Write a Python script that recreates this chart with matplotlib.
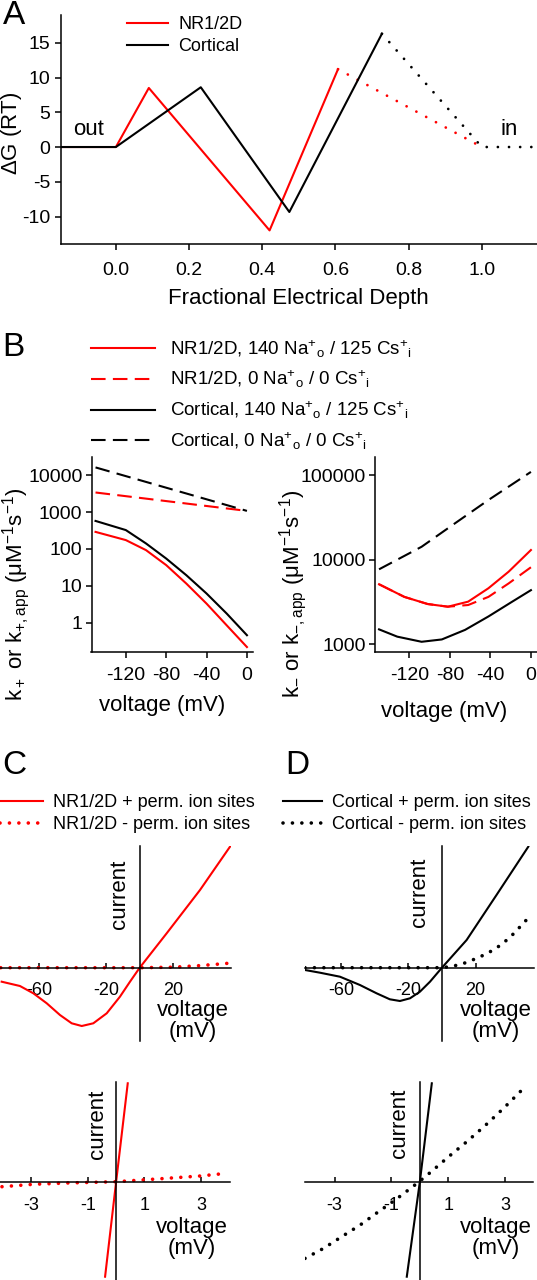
import matplotlib
matplotlib.use('Agg')
import matplotlib.pyplot as plt
from matplotlib.ticker import NullLocator

plt.rcParams['font.family'] = ['Liberation Sans', 'DejaVu Sans']
plt.rcParams['mathtext.fontset'] = 'custom'
plt.rcParams['mathtext.rm'] = 'Liberation Sans'
plt.rcParams['mathtext.it'] = 'Liberation Sans:italic'
plt.rcParams['mathtext.bf'] = 'Liberation Sans:bold'
plt.rcParams['lines.solid_joinstyle'] = 'round'

RED = '#ff0000'

# ---- panel A: energy profile ----
a_nr_x = [-0.15, 0.0, 0.09, 0.42, 0.607]
a_nr_y = [0, 0, 8.5, -12.0, 11.2]
a_nr_dot_x = [0.607, 1.0]
a_nr_dot_y = [11.2, 0]
a_ctx_x = [-0.15, 0.0, 0.232, 0.474, 0.727]
a_ctx_y = [0, 0, 8.6, -9.35, 16.3]
a_ctx_dot_x = [0.727, 1.0, 1.15]
a_ctx_dot_y = [16.3, 0, 0]
a_xticks = [0.0, 0.2, 0.4, 0.6, 0.8, 1.0]
a_yticks = [-10, -5, 0, 5, 10, 15]

# ---- panel B: rate constants ----
bl_v = [-150, -120, -100, -80, -60, -40, -20, 0]
kp_ctx_140 = [575, 325, 141, 55, 19.4, 6.2, 1.77, 0.46]
kp_nr_140 = [290, 174, 93, 36.5, 11.5, 3.3, 0.85, 0.22]
bl_v0 = [-150, 0]
kp_ctx_0 = [16200, 1075]
kp_nr_0 = [3390, 1075]
bl_yticks = [1, 10, 100, 1000, 10000]

br_v_ctx0 = [-150, -108, -75, -42, 0]
km_ctx_0 = [7690, 14200, 26900, 50700, 109000]
br_v_nr = [-150, -125, -102, -82, -62, -42, -22, 0]
km_nr_140 = [5120, 3630, 2990, 2780, 3190, 4590, 7210, 13000]
km_nr_0 = [5120, 3630, 2990, 2780, 2910, 3630, 5240, 8130]
br_v_ctx = [-150, -132, -108, -88, -65, -42, -19, 0]
km_ctx_140 = [1500, 1230, 1070, 1140, 1480, 2130, 3160, 4360]
br_yticks = [1000, 10000, 100000]
b_xticks = [-120, -80, -40, 0]

# ---- panels C / D: I-V curves (arbitrary current units) ----
c_v = [-82.4, -71.5, -63.5, -55.5, -47.6, -40.6, -34.6, -27.7, -19.7, -11.8, -5.8, 0, 16.1, 36, 53.9]
c_i_plus = [-14, -18.3, -25.6, -35.6, -47.3, -55.6, -58.3, -55.6, -45.6, -29, -14, 0, 34.4, 77.7, 121]
c_v_minus = [-83, 0, 20, 35, 45, 52]
c_i_minus = [0, 0, 0.5, 2, 3.3, 4.3]

d_v = [-81.5, -72.6, -60.7, -48.8, -38.9, -31, -25, -19, -13.1, -7.1, 0, 14.7, 32.6, 51.4]
d_i_plus = [-2.3, -5, -9, -17.3, -25.6, -31.6, -33.3, -30.6, -24, -14, 0, 27.7, 73, 121]
d_v_minus = [-81.5, 0, 4.6, 9.7, 14.7, 19.6, 25, 30.6, 35.5, 40.9, 46, 50.8]
d_i_minus = [0, 0, 1, 2.7, 5.3, 8.7, 12.7, 17.7, 23.3, 31, 40, 48.7]

cl_v_plus = [-0.39, 0, 0.41]
cl_i_plus = [-95, 0, 98.4]
cl_v_minus = [-4.03, -2.92, -1.74, 0, 1.79, 2.96, 3.91]
cl_i_minus = [-5, -2.6, -1.3, 0, 3.4, 5.7, 8.4]

dl_v_plus = [-0.46, 0, 0.42]
dl_i_plus = [-95, 0, 98.4]
dl_v_minus = [-4.04, -3.39, -2.75, -2.1, -1.49, -0.87, -0.22, 0.07, 0.4, 1.01, 1.65, 2.28, 2.94, 3.61]
dl_i_minus = [-76.7, -66.7, -55, -43.3, -30.7, -18.3, -4.3, 2.3, 10, 25, 40, 55.7, 73.3, 92.3]

up_xticks = [-60, -20, 20]
lo_xticks = [-3, -1, 1, 3]

W, H = 537, 1280
fig = plt.figure(figsize=(W / 100, H / 100), dpi=100)


def px_axes(l, t, r, b):
    return fig.add_axes([l / W, 1 - b / H, (r - l) / W, (b - t) / H])


def fx(x):
    return x / W


def fy(y):
    return 1 - y / H


def plain_axes(ax):
    ax.spines['top'].set_visible(False)
    ax.spines['right'].set_visible(False)
    for s in ['left', 'bottom']:
        ax.spines[s].set_linewidth(1.1)
    ax.tick_params(direction='out', length=4.5, width=1.1, labelsize=14, pad=2)


dots_a = dict(linestyle=(0, (0.01, 4.0)), dash_capstyle='round', lw=2.0)
dots_c = dict(linestyle=(0, (0.01, 2.6)), dash_capstyle='round', lw=2.6)
dash_b = dict(linestyle=(0, (7, 3.5)), lw=1.5)

# ---------------- A ----------------
ax = px_axes(61, 15, 536.7, 244.3)
plain_axes(ax)
l_nr, = ax.plot(a_nr_x, a_nr_y, color=RED, lw=1.5, label='NR1/2D')
ax.plot(a_nr_dot_x, a_nr_dot_y, color=RED, **dots_a)
l_ctx, = ax.plot(a_ctx_x, a_ctx_y, color='black', lw=1.5, label='Cortical')
ax.plot(a_ctx_dot_x, a_ctx_dot_y, color='black', **dots_a)
ax.set_xlim(-0.15, 1.15)
ax.set_ylim(-14, 19)
ax.set_xticks(a_xticks)
ax.set_xticklabels(['%.1f' % v for v in a_xticks])
ax.set_yticks(a_yticks)
ax.set_yticklabels([str(v) for v in a_yticks])
ax.tick_params(axis='x', pad=8.5)
ax.tick_params(axis='y', pad=3)
ax.text(-0.075, 2.5, 'out', fontsize=16, ha='center', va='center')
ax.text(1.075, 2.5, 'in', fontsize=16, ha='center', va='center')
ax.set_xlabel('Fractional Electrical Depth', fontsize=16, labelpad=6)
fig.text(fx(11), fy(133), r'$\Delta$G (RT)', rotation=90, fontsize=16, ha='center', va='center')
ax.legend(handles=[l_nr, l_ctx], loc='upper left', bbox_to_anchor=(fx(126.7), fy(16)),
          bbox_transform=fig.transFigure, frameon=False, fontsize=13, handlelength=2.3,
          handletextpad=0.55, borderpad=0, borderaxespad=0, labelspacing=0.3)

# ---------------- B ----------------
axl = px_axes(91.5, 456.7, 253, 652.3)
plain_axes(axl)
axl.set_yscale('log')
b1, = axl.plot(bl_v, kp_nr_140, color=RED, lw=1.5)
b2, = axl.plot(bl_v0, kp_nr_0, color=RED, **dash_b)
b3, = axl.plot(bl_v, kp_ctx_140, color='black', lw=1.5)
b4, = axl.plot(bl_v0, kp_ctx_0, color='black', **dash_b)
axl.set_xlim(-154, 6)
axl.set_ylim(10 ** -0.8, 10 ** 4.5)
axl.set_yticks(bl_yticks)
axl.set_yticklabels([str(v) for v in bl_yticks])
axl.yaxis.set_minor_locator(NullLocator())
axl.set_xticks(b_xticks)
axl.set_xticklabels([str(v) for v in b_xticks])
axl.tick_params(axis='x', pad=6)
fig.text(fx(162), fy(706), 'voltage (mV)', fontsize=16, ha='center', va='center')
fig.text(fx(16), fy(594), r'k$_+$ or k$_{+,\mathrm{app}}$ ($\mathrm{\mu}$M$^{-1}$s$^{-1}$)',
         rotation=90, fontsize=16, ha='center', va='center')

axr = px_axes(375, 457.3, 537, 652.3)
plain_axes(axr)
axr.set_yscale('log')
axr.plot(br_v_ctx0, km_ctx_0, color='black', **dash_b)
axr.plot(br_v_nr, km_nr_0, color=RED, **dash_b)
axr.plot(br_v_nr, km_nr_140, color=RED, lw=1.5)
axr.plot(br_v_ctx, km_ctx_140, color='black', lw=1.5)
axr.set_xlim(-154, 6)
axr.set_ylim(10 ** 2.905, 10 ** 5.21)
axr.set_yticks(br_yticks)
axr.set_yticklabels([str(v) for v in br_yticks])
axr.yaxis.set_minor_locator(NullLocator())
axr.set_xticks(b_xticks)
axr.set_xticklabels([str(v) for v in b_xticks])
axr.tick_params(axis='x', pad=6)
fig.text(fx(444), fy(712), 'voltage (mV)', fontsize=16, ha='center', va='center')
fig.text(fx(293), fy(594), r'k$_{-}$ or k$_{-,\mathrm{app}}$ ($\mathrm{\mu}$M$^{-1}$s$^{-1}$)',
         rotation=90, fontsize=16, ha='center', va='center')

b_labels = [r'NR1/2D, 140 Na$^{+}$$_{\mathrm{o}}$ / 125 Cs$^{+}$$_{\mathrm{i}}$',
            r'NR1/2D, 0 Na$^{+}$$_{\mathrm{o}}$ / 0 Cs$^{+}$$_{\mathrm{i}}$',
            r'Cortical, 140 Na$^{+}$$_{\mathrm{o}}$ / 125 Cs$^{+}$$_{\mathrm{i}}$',
            r'Cortical, 0 Na$^{+}$$_{\mathrm{o}}$ / 0 Cs$^{+}$$_{\mathrm{i}}$']
axl.legend(handles=[b1, b2, b3, b4], labels=b_labels, loc='upper left',
           bbox_to_anchor=(fx(90.8), fy(338)), bbox_transform=fig.transFigure,
           frameon=False, fontsize=13.5, handlelength=3.4, handletextpad=0.85,
           borderpad=0, borderaxespad=0, labelspacing=0.48)


# ---------------- C / D ----------------
def iv_axes(l, t, r, b, xlim, ylim, ticks, pad):
    a = px_axes(l, t, r, b)
    a.spines['top'].set_visible(False)
    a.spines['right'].set_visible(False)
    a.spines['left'].set_position(('data', 0))
    a.spines['bottom'].set_position(('data', 0))
    for s in ['left', 'bottom']:
        a.spines[s].set_linewidth(1.1)
    a.set_xlim(*xlim)
    a.set_ylim(*ylim)
    a.set_yticks([])
    a.set_xticks(ticks)
    a.set_xticklabels([str(v) for v in ticks])
    a.tick_params(axis='x', direction='in', length=3.6, width=1.1, labelsize=13, pad=pad)
    return a


axc = iv_axes(0, 846, 231, 1041, (-83.4, 54.5), (-73.3, 121.7), up_xticks, 10)
c1, = axc.plot(c_v, c_i_plus, color=RED, lw=1.5)
c2, = axc.plot(c_v_minus, c_i_minus, color=RED, **dots_c)
fig.text(fx(120), fy(894), 'current', rotation=90, fontsize=16, ha='center', va='center')
fig.text(fx(193), fy(1021), 'voltage\n(mV)', fontsize=16, ha='center', va='center', linespacing=0.95)
axc.legend(handles=[c1, c2], labels=['NR1/2D + perm. ion sites', 'NR1/2D - perm. ion sites'],
           loc='upper left', bbox_to_anchor=(fx(0), fy(794)), bbox_transform=fig.transFigure,
           frameon=False, fontsize=13, handlelength=2.38, handletextpad=0.55,
           borderpad=0, borderaxespad=0, labelspacing=0.3)

axd = iv_axes(305, 846, 534, 1041, (-81.5, 54.8), (-73.3, 121.7), up_xticks, 10)
d1, = axd.plot(d_v, d_i_plus, color='black', lw=1.5)
d2, = axd.plot(d_v_minus, d_i_minus, color='black', **dots_c)
fig.text(fx(420), fy(892), 'current', rotation=90, fontsize=16, ha='center', va='center')
fig.text(fx(496), fy(1021), 'voltage\n(mV)', fontsize=16, ha='center', va='center', linespacing=0.95)
axd.legend(handles=[d1, d2], labels=['Cortical + perm. ion sites', 'Cortical - perm. ion sites'],
           loc='upper left', bbox_to_anchor=(fx(282.5), fy(794)), bbox_transform=fig.transFigure,
           frameon=False, fontsize=13, handlelength=2.2, handletextpad=0.55,
           borderpad=0, borderaxespad=0, labelspacing=0.3)

axcl = iv_axes(0, 1082.3, 230, 1280, (-4.1, 4.02), (-98.3, 99.4), lo_xticks, 11)
axcl.plot(cl_v_plus, cl_i_plus, color=RED, lw=1.5)
axcl.plot(cl_v_minus, cl_i_minus, color=RED, **dots_c)
fig.text(fx(97), fy(1124), 'current', rotation=90, fontsize=16, ha='center', va='center')
fig.text(fx(192), fy(1238), 'voltage\n(mV)', fontsize=16, ha='center', va='center', linespacing=0.95)

axdl = iv_axes(305, 1082.3, 533.3, 1280, (-4.04, 3.99), (-98.3, 99.4), lo_xticks, 11)
axdl.plot(dl_v_plus, dl_i_plus, color='black', lw=1.5)
axdl.plot(dl_v_minus, dl_i_minus, color='black', **dots_c)
fig.text(fx(400), fy(1123), 'current', rotation=90, fontsize=16, ha='center', va='center')
fig.text(fx(496), fy(1238), 'voltage\n(mV)', fontsize=16, ha='center', va='center', linespacing=0.95)

# panel letters
for lab, x, y in [('A', 14, 15), ('B', 13, 348), ('C', 14, 765), ('D', 297, 765)]:
    fig.text(fx(x), fy(y), lab, fontsize=24, ha='center', va='center')

fig.savefig('out.png', dpi=100)
